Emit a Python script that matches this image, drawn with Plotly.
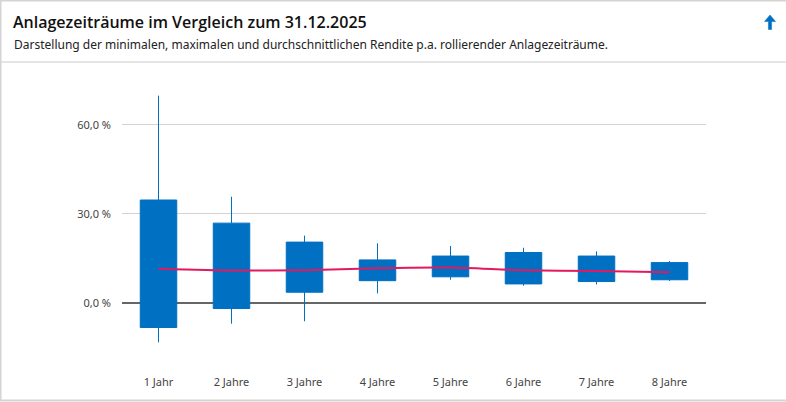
import plotly.graph_objects as go

categories = ["1 Jahr", "2 Jahre", "3 Jahre", "4 Jahre", "5 Jahre", "6 Jahre", "7 Jahre", "8 Jahre"]
max_ret = [69.9, 35.8, 22.7, 20.1, 19.2, 18.6, 17.4, 14.1]
box_high = [34.7, 26.9, 20.5, 14.5, 15.8, 17.0, 15.8, 13.6]
box_low = [-8.3, -1.9, 3.6, 7.5, 8.8, 6.4, 7.2, 7.8]
min_ret = [-13.3, -7.0, -6.2, 3.2, 7.8, 5.8, 6.2, 7.4]
avg_ret = [11.5, 10.9, 11.0, 11.7, 11.9, 11.0, 10.8, 10.3]
y_ticks = [0, 30, 60]
y_tick_labels = [f"{v:.1f}".replace(".", ",") + " %" for v in y_ticks]

W, H = 786, 402
L, R, T, B = 122, 80, 90, 30
pw, ph = W - L - R, H - T - B

def px(x):
    return (x - L) / pw

def py(y):
    return (H - B - y) / ph

BLUE = "#0070C3"
FONT = "Noto Sans"

fig = go.Figure()
fig.add_trace(go.Box(
    x=categories, q1=box_low, median=box_low, q3=box_high,
    lowerfence=min_ret, upperfence=max_ret,
    width=0.5, whiskerwidth=0, fillcolor=BLUE,
    line=dict(color=BLUE, width=1), hoverinfo="skip", showlegend=False,
))
fig.add_trace(go.Scatter(
    x=categories, y=avg_ret, mode="lines",
    line=dict(color="#E3185F", width=2, shape="spline", smoothing=0.6),
    hoverinfo="skip", showlegend=False,
))

arrow_pts = [(770, 15), (775.5, 21.5), (771.6, 21.5), (771.6, 29.5), (768.4, 29.5), (768.4, 21.5), (764.5, 21.5)]
arrow_path = "M " + " L ".join(f"{px(x):.5f},{py(y):.5f}" for x, y in arrow_pts) + " Z"

shapes = [
    dict(type="line", xref="paper", yref="paper", x0=px(0), x1=px(W), y0=py(62), y1=py(62),
         line=dict(color="#dcdcdc", width=1.5)),
    dict(type="line", xref="paper", yref="paper", x0=px(0), x1=px(W), y0=py(0.5), y1=py(0.5),
         line=dict(color="#d4d4d4", width=2)),
    dict(type="line", xref="paper", yref="paper", x0=px(0), x1=px(W), y0=py(400.5), y1=py(400.5),
         line=dict(color="#d4d4d4", width=2)),
    dict(type="line", xref="paper", yref="paper", x0=px(0.5), x1=px(0.5), y0=py(0), y1=py(401),
         line=dict(color="#d4d4d4", width=2)),
    dict(type="path", xref="paper", yref="paper", path=arrow_path,
         fillcolor=BLUE, line=dict(color=BLUE, width=0.5)),
]

annotations = [
    dict(text="Anlagezeiträume im Vergleich zum 31.12.2025", xref="paper", yref="paper",
         x=px(11), y=py(22), xanchor="left", yanchor="middle", showarrow=False,
         font=dict(family="Open Sans", size=16, color="#111111", weight=600)),
    dict(text="Darstellung der minimalen, maximalen und durchschnittlichen Rendite p.a. rollierender Anlagezeiträume.",
         xref="paper", yref="paper", x=px(12), y=py(44), xanchor="left", yanchor="middle",
         showarrow=False, font=dict(family=FONT, size=12, color="#222222")),
]

fig.update_layout(
    width=W, height=H, margin=dict(l=L, r=R, t=T, b=B),
    paper_bgcolor="white", plot_bgcolor="white",
    shapes=shapes, annotations=annotations,
    font=dict(family=FONT, size=11, color="#444444"),
)
fig.update_xaxes(type="category", range=[-0.5, 7.5], showgrid=False, showline=False,
                 ticks="", ticklabelstandoff=2,
                 tickfont=dict(family=FONT, size=11, color="#444444"), fixedrange=True)
fig.update_yaxes(range=[-23.3, 71.8], tickvals=y_ticks, ticktext=y_tick_labels,
                 showgrid=True, gridcolor="#d3d3d3", gridwidth=1,
                 zeroline=True, zerolinecolor="#666666", zerolinewidth=1.5,
                 ticks="", ticklabelstandoff=10,
                 tickfont=dict(family=FONT, size=11, color="#444444"), fixedrange=True)

fig.write_html("out.html", config={"displayModeBar": False},
               post_script="document.body.style.margin='0';document.body.style.overflow='hidden';")
